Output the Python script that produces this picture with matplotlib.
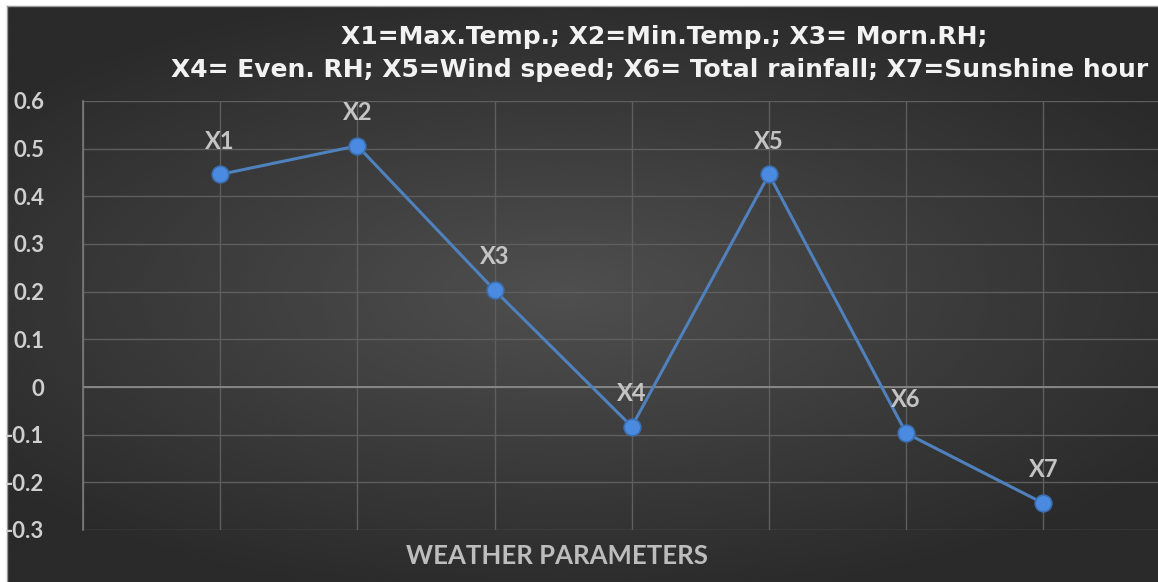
import numpy as np
import matplotlib.pyplot as plt
from matplotlib.ticker import FuncFormatter

# data
params = ['X1', 'X2', 'X3', 'X4', 'X5', 'X6', 'X7']
values = [0.446, 0.506, 0.203, -0.083, 0.446, -0.097, -0.244]
y_ticks = [0.6, 0.5, 0.4, 0.3, 0.2, 0.1, 0, -0.1, -0.2, -0.3]

title_1 = 'X1=Max.Temp.; X2=Min.Temp.; X3= Morn.RH;'
title_2 = 'X4= Even. RH; X5=Wind speed; X6= Total rainfall; X7=Sunshine hour'
x_title = 'WEATHER PARAMETERS'

plt.rcParams['font.family'] = ['Lato', 'DejaVu Sans']

W, H = 1158, 582
fig = plt.figure(figsize=(W / 100, H / 100), dpi=100)
fig.patch.set_facecolor('white')

# dark radial background (chart area sits inside a thin white margin)
bg = fig.add_axes([7 / W, 0, 1 - 7 / W, 1 - 6 / H])
bg.set_axis_off()
yy, xx = np.mgrid[-1:1:300j, -1:1:600j]
r = np.sqrt(((xx + 0.03) * 0.95) ** 2 + (yy * 1.1) ** 2)
shade = np.clip(0.31 - 0.12 * r, 0.165, 0.31)
bg.imshow(shade, cmap='gray', vmin=0, vmax=1, aspect='auto',
          extent=[0, 1, 0, 1], interpolation='bicubic')
bg.plot([0, 1], [1, 1], color='#9a9a9a', lw=1, transform=bg.transAxes, clip_on=False)
bg.plot([0, 0], [0, 1], color='#9a9a9a', lw=1, transform=bg.transAxes, clip_on=False)

ax = fig.add_axes([83 / W, 1 - 530 / H, 1 - 83 / W, (530 - 101) / H])
ax.patch.set_alpha(0)

x = np.arange(1, len(params) + 1)
ax.plot(x, values, color='#4f81bd', lw=2.2, marker='o', markersize=12,
        markerfacecolor='#4a8ae0', markeredgecolor='#3b6fb0',
        markeredgewidth=1.2, zorder=5)

for xi, v, name in zip(x, values, params):
    ax.annotate(name, (xi, v), xytext=(0, 24), textcoords='offset points',
                ha='center', va='center', fontsize=17, color='#c4c4c4',
                fontweight='bold', zorder=6)

ax.set_xlim(0, (W - 83) / 137.2)
ax.set_ylim(-0.3, 0.6)
ax.set_yticks(y_ticks)
ax.yaxis.set_major_formatter(FuncFormatter(lambda v, p: '0' if abs(v) < 1e-9 else f'{v:.1f}'))
ax.set_xticks(np.arange(0, len(params) + 1))
ax.set_xticklabels([])
ax.tick_params(axis='both', length=0, pad=28)
ax.tick_params(axis='y', labelsize=16, labelcolor='#cfcfcf')
for lbl in ax.get_yticklabels():
    lbl.set_fontweight('bold')

ax.grid(True, color='#5e5e5e', lw=1)
ax.set_axisbelow(True)
ax.axhline(0, color='#8a8a8a', lw=1.3, zorder=2)
for s in ['top', 'right', 'bottom']:
    ax.spines[s].set_visible(False)
ax.spines['left'].set_color('#7a7a7a')
ax.spines['left'].set_linewidth(1.2)

fig.text(664 / W, 1 - 37 / H, title_1, ha='center', va='center', fontsize=18,
         fontweight='bold', color='#f2f2f2', family=['DejaVu Sans'])
fig.text(660 / W, 1 - 70 / H, title_2, ha='center', va='center', fontsize=18,
         fontweight='bold', color='#f2f2f2', family=['DejaVu Sans'])
fig.text(557 / W, 1 - 556 / H, x_title, ha='center', va='center', fontsize=18.5,
         fontweight='bold', color='#bdbdbd')

fig.savefig('out.png', dpi=100, facecolor=fig.get_facecolor())
